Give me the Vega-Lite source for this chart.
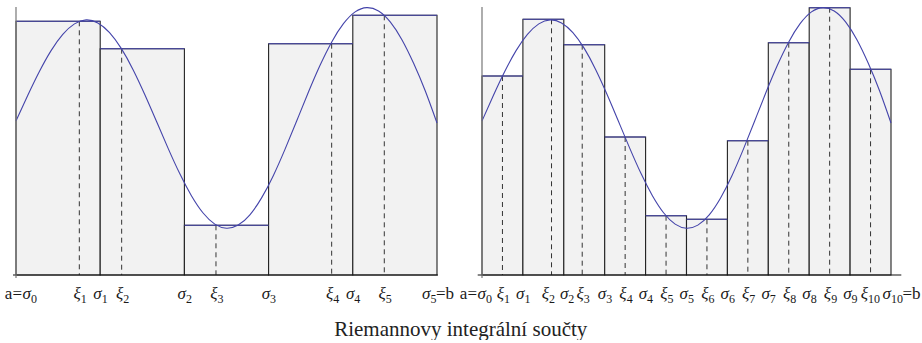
{
  "$schema": "https://vega.github.io/schema/vega-lite/v6.json",
  "padding": {"left": 4, "top": 5, "right": 0, "bottom": 0},
  "autosize": {"type": "pad"},
  "bounds": "flush",
  "spacing": 45,
  "config": {"view": {"stroke": null}, "axis": {"disable": true}, "font": "Liberation Serif", "text": {"font": "Liberation Serif", "color": "#1a1a1a", "baseline": "alphabetic"}},
  "title": {"text": "Riemannovy integrální součty", "orient": "bottom", "anchor": "middle", "fontSize": 21, "fontWeight": "normal", "font": "Liberation Serif", "color": "#222222", "offset": 14, "dx": -2},
  "datasets": {
    "left": [
      {"x0": 0, "x1": 1, "xi": 0.752, "h": 253.7},
      {"x0": 1, "x1": 2, "xi": 1.255, "h": 226.3},
      {"x0": 2, "x1": 3, "xi": 2.375, "h": 49.7},
      {"x0": 3, "x1": 4, "xi": 3.749, "h": 231.3},
      {"x0": 4, "x1": 5, "xi": 4.374, "h": 259.7}
    ],
    "right": [
      {"x0": 0, "x1": 1, "xi": 0.5, "h": 199},
      {"x0": 1, "x1": 2, "xi": 1.7, "h": 255.7},
      {"x0": 2, "x1": 3, "xi": 2.45, "h": 230.3},
      {"x0": 3, "x1": 4, "xi": 3.5, "h": 138},
      {"x0": 4, "x1": 5, "xi": 4.5, "h": 59.3},
      {"x0": 5, "x1": 6, "xi": 5.5, "h": 55.7},
      {"x0": 6, "x1": 7, "xi": 6.5, "h": 134.3},
      {"x0": 7, "x1": 8, "xi": 7.5, "h": 232.3},
      {"x0": 8, "x1": 9, "xi": 8.5, "h": 267.3},
      {"x0": 9, "x1": 10, "xi": 9.5, "h": 205.7}
    ],
    "curve": [
      {"xl": 0, "xr": 0, "y": 154},
      {"xl": 0.1389, "xr": 0.2778, "y": 179.5},
      {"xl": 0.2778, "xr": 0.5556, "y": 203.5},
      {"xl": 0.4167, "xr": 0.8333, "y": 224.4},
      {"xl": 0.5556, "xr": 1.1111, "y": 240.6},
      {"xl": 0.6944, "xr": 1.3889, "y": 251.1},
      {"xl": 0.8333, "xr": 1.6667, "y": 255.1},
      {"xl": 0.9722, "xr": 1.9444, "y": 252.1},
      {"xl": 1.1111, "xr": 2.2222, "y": 242.4},
      {"xl": 1.25, "xr": 2.5, "y": 226.6},
      {"xl": 1.3889, "xr": 2.7778, "y": 205.6},
      {"xl": 1.5278, "xr": 3.0556, "y": 180.8},
      {"xl": 1.6667, "xr": 3.3333, "y": 154},
      {"xl": 1.8056, "xr": 3.6111, "y": 126.9},
      {"xl": 1.9444, "xr": 3.8889, "y": 101.4},
      {"xl": 2.0833, "xr": 4.1667, "y": 79.3},
      {"xl": 2.2222, "xr": 4.4444, "y": 62.0},
      {"xl": 2.3611, "xr": 4.7222, "y": 50.9},
      {"xl": 2.5, "xr": 5, "y": 46.8},
      {"xl": 2.6389, "xr": 5.2778, "y": 49.9},
      {"xl": 2.7778, "xr": 5.5556, "y": 60.2},
      {"xl": 2.9167, "xr": 5.8333, "y": 77.1},
      {"xl": 3.0556, "xr": 6.1111, "y": 99.3},
      {"xl": 3.1944, "xr": 6.3889, "y": 125.6},
      {"xl": 3.3333, "xr": 6.6667, "y": 154},
      {"xl": 3.4722, "xr": 6.9444, "y": 182.7},
      {"xl": 3.6111, "xr": 7.2222, "y": 209.7},
      {"xl": 3.75, "xr": 7.5, "y": 233.1},
      {"xl": 3.8889, "xr": 7.7778, "y": 251.3},
      {"xl": 4.0278, "xr": 8.0556, "y": 263.1},
      {"xl": 4.1667, "xr": 8.3333, "y": 267.4},
      {"xl": 4.3056, "xr": 8.6111, "y": 264.0},
      {"xl": 4.4444, "xr": 8.8889, "y": 253.1},
      {"xl": 4.5833, "xr": 9.1667, "y": 235.3},
      {"xl": 4.7222, "xr": 9.4444, "y": 211.7},
      {"xl": 4.8611, "xr": 9.7222, "y": 184.0},
      {"xl": 5, "xr": 10, "y": 152}
    ],
    "labelsL": [
      {"x": 0, "p": "a=", "m": "σ", "s": "0", "e": "", "kind": "a"},
      {"x": 0.752, "p": "", "m": "ξ", "s": "1", "e": "", "kind": "n"},
      {"x": 1, "p": "", "m": "σ", "s": "1", "e": "", "kind": "n"},
      {"x": 1.255, "p": "", "m": "ξ", "s": "2", "e": "", "kind": "n"},
      {"x": 2, "p": "", "m": "σ", "s": "2", "e": "", "kind": "n"},
      {"x": 2.375, "p": "", "m": "ξ", "s": "3", "e": "", "kind": "n"},
      {"x": 3, "p": "", "m": "σ", "s": "3", "e": "", "kind": "n"},
      {"x": 3.749, "p": "", "m": "ξ", "s": "4", "e": "", "kind": "n"},
      {"x": 4, "p": "", "m": "σ", "s": "4", "e": "", "kind": "n"},
      {"x": 4.374, "p": "", "m": "ξ", "s": "5", "e": "", "kind": "n"},
      {"x": 5, "p": "", "m": "σ", "s": "5", "e": "=b", "kind": "b"}
    ],
    "labelsR": [
      {"x": 0, "p": "a=", "m": "σ", "s": "0", "e": "", "kind": "a"},
      {"x": 0.5, "p": "", "m": "ξ", "s": "1", "e": "", "kind": "n"},
      {"x": 1, "p": "", "m": "σ", "s": "1", "e": "", "kind": "n"},
      {"x": 1.7, "p": "", "m": "ξ", "s": "2", "e": "", "kind": "w"},
      {"x": 2, "p": "", "m": "σ", "s": "2", "e": "", "kind": "r"},
      {"x": 2.45, "p": "", "m": "ξ", "s": "3", "e": "", "kind": "n"},
      {"x": 3, "p": "", "m": "σ", "s": "3", "e": "", "kind": "n"},
      {"x": 3.5, "p": "", "m": "ξ", "s": "4", "e": "", "kind": "n"},
      {"x": 4, "p": "", "m": "σ", "s": "4", "e": "", "kind": "n"},
      {"x": 4.5, "p": "", "m": "ξ", "s": "5", "e": "", "kind": "n"},
      {"x": 5, "p": "", "m": "σ", "s": "5", "e": "", "kind": "n"},
      {"x": 5.5, "p": "", "m": "ξ", "s": "6", "e": "", "kind": "n"},
      {"x": 6, "p": "", "m": "σ", "s": "6", "e": "", "kind": "n"},
      {"x": 6.5, "p": "", "m": "ξ", "s": "7", "e": "", "kind": "n"},
      {"x": 7, "p": "", "m": "σ", "s": "7", "e": "", "kind": "n"},
      {"x": 7.5, "p": "", "m": "ξ", "s": "8", "e": "", "kind": "n"},
      {"x": 8, "p": "", "m": "σ", "s": "8", "e": "", "kind": "n"},
      {"x": 8.5, "p": "", "m": "ξ", "s": "9", "e": "", "kind": "n"},
      {"x": 9, "p": "", "m": "σ", "s": "9", "e": "", "kind": "n"},
      {"x": 9.5, "p": "", "m": "ξ", "s": "10", "e": "", "kind": "w"},
      {"x": 10, "p": "", "m": "σ", "s": "10", "e": "=b", "kind": "b"}
    ],
    "axesL": [{"a": -0.036, "b": 5.012, "y0": -3, "y1": 268}],
    "axesR": [{"a": -0.105, "b": 10.252, "y0": -3, "y1": 268}]
  },
  "hconcat": [
    {
      "width": 421,
      "height": 268,
      "layer": [
        {"data": {"name": "left"}, "mark": {"type": "rect", "fill": "#f2f2f2", "stroke": "#222222", "strokeWidth": 1.1},
         "encoding": {"x": {"field": "x0", "type": "quantitative", "scale": {"domain": [0, 5], "nice": false, "zero": false}}, "x2": {"field": "x1"}, "y": {"field": "h", "type": "quantitative", "scale": {"domain": [0, 268], "nice": false, "zero": false}}, "y2": {"datum": 0}}},
        {"data": {"name": "left"}, "mark": {"type": "rule", "color": "#333333", "strokeWidth": 1, "strokeDash": [5, 4]},
         "encoding": {"x": {"field": "xi", "type": "quantitative"}, "y": {"field": "h", "type": "quantitative"}, "y2": {"datum": 0}}},
        {"data": {"name": "left"}, "mark": {"type": "rule", "color": "#4444aa", "strokeWidth": 1.1},
         "encoding": {"x": {"field": "x0", "type": "quantitative"}, "x2": {"field": "x1"}, "y": {"field": "h", "type": "quantitative"}}},
        {"data": {"name": "curve"}, "mark": {"type": "line", "color": "#4444aa", "strokeWidth": 1.1, "interpolate": "natural"},
         "encoding": {"x": {"field": "xl", "type": "quantitative"}, "y": {"field": "y", "type": "quantitative"}}},
        {"data": {"name": "axesL"}, "mark": {"type": "rule", "color": "#111111", "strokeWidth": 1.2},
         "encoding": {"x": {"field": "a", "type": "quantitative"}, "x2": {"field": "b"}, "y": {"datum": 0, "type": "quantitative"}}},
        {"data": {"name": "axesL"}, "mark": {"type": "rule", "color": "#777777", "strokeWidth": 1.2},
         "encoding": {"x": {"datum": 0, "type": "quantitative"}, "y": {"field": "y0", "type": "quantitative"}, "y2": {"field": "y1"}}},
        {"data": {"name": "labelsL"},
         "encoding": {"x": {"field": "x", "type": "quantitative"}, "y": {"datum": 0, "type": "quantitative"}},
         "layer": [
           {"transform": [{"filter": "datum.kind == 'n'"}], "mark": {"type": "text", "align": "right", "dx": 1.5, "dy": 24, "fontSize": 17, "fontStyle": "italic"}, "encoding": {"text": {"field": "m", "type": "nominal"}}},
           {"transform": [{"filter": "datum.kind == 'n'"}], "mark": {"type": "text", "align": "left", "dx": 1.5, "dy": 28, "fontSize": 12}, "encoding": {"text": {"field": "s", "type": "nominal"}}},
           {"transform": [{"filter": "datum.kind == 'a'"}], "mark": {"type": "text", "align": "right", "dx": 15, "dy": 24, "fontSize": 17, "fontStyle": "italic"}, "encoding": {"text": {"field": "m", "type": "nominal"}}},
           {"transform": [{"filter": "datum.kind == 'a'"}], "mark": {"type": "text", "align": "right", "dx": 6, "dy": 24, "fontSize": 17}, "encoding": {"text": {"field": "p", "type": "nominal"}}},
           {"transform": [{"filter": "datum.kind == 'a'"}], "mark": {"type": "text", "align": "left", "dx": 15, "dy": 28, "fontSize": 12}, "encoding": {"text": {"field": "s", "type": "nominal"}}},
           {"transform": [{"filter": "datum.kind == 'b'"}], "mark": {"type": "text", "align": "right", "dx": -6.5, "dy": 24, "fontSize": 17, "fontStyle": "italic"}, "encoding": {"text": {"field": "m", "type": "nominal"}}},
           {"transform": [{"filter": "datum.kind == 'b'"}], "mark": {"type": "text", "align": "left", "dx": -6.5, "dy": 28, "fontSize": 12}, "encoding": {"text": {"field": "s", "type": "nominal"}}},
           {"transform": [{"filter": "datum.kind == 'b'"}], "mark": {"type": "text", "align": "left", "dx": -1, "dy": 24, "fontSize": 17}, "encoding": {"text": {"field": "e", "type": "nominal"}}}
         ]}
      ]
    },
    {
      "width": 409,
      "height": 268,
      "layer": [
        {"data": {"name": "right"}, "mark": {"type": "rect", "fill": "#f2f2f2", "stroke": "#222222", "strokeWidth": 1.1},
         "encoding": {"x": {"field": "x0", "type": "quantitative", "scale": {"domain": [0, 10], "nice": false, "zero": false}}, "x2": {"field": "x1"}, "y": {"field": "h", "type": "quantitative", "scale": {"domain": [0, 268], "nice": false, "zero": false}}, "y2": {"datum": 0}}},
        {"data": {"name": "right"}, "mark": {"type": "rule", "color": "#333333", "strokeWidth": 1, "strokeDash": [5, 4]},
         "encoding": {"x": {"field": "xi", "type": "quantitative"}, "y": {"field": "h", "type": "quantitative"}, "y2": {"datum": 0}}},
        {"data": {"name": "right"}, "mark": {"type": "rule", "color": "#4444aa", "strokeWidth": 1.1},
         "encoding": {"x": {"field": "x0", "type": "quantitative"}, "x2": {"field": "x1"}, "y": {"field": "h", "type": "quantitative"}}},
        {"data": {"name": "curve"}, "mark": {"type": "line", "color": "#4444aa", "strokeWidth": 1.1, "interpolate": "natural"},
         "encoding": {"x": {"field": "xr", "type": "quantitative"}, "y": {"field": "y", "type": "quantitative"}}},
        {"data": {"name": "axesR"}, "mark": {"type": "rule", "color": "#111111", "strokeWidth": 1.2},
         "encoding": {"x": {"field": "a", "type": "quantitative"}, "x2": {"field": "b"}, "y": {"datum": 0, "type": "quantitative"}}},
        {"data": {"name": "axesR"}, "mark": {"type": "rule", "color": "#777777", "strokeWidth": 1.2},
         "encoding": {"x": {"datum": 0, "type": "quantitative"}, "y": {"field": "y0", "type": "quantitative"}, "y2": {"field": "y1"}}},
        {"data": {"name": "labelsR"},
         "encoding": {"x": {"field": "x", "type": "quantitative"}, "y": {"datum": 0, "type": "quantitative"}},
         "layer": [
           {"transform": [{"filter": "datum.kind == 'n'"}], "mark": {"type": "text", "align": "right", "dx": 1.5, "dy": 24, "fontSize": 17, "fontStyle": "italic"}, "encoding": {"text": {"field": "m", "type": "nominal"}}},
           {"transform": [{"filter": "datum.kind == 'n'"}], "mark": {"type": "text", "align": "left", "dx": 1.5, "dy": 28, "fontSize": 12}, "encoding": {"text": {"field": "s", "type": "nominal"}}},
           {"transform": [{"filter": "datum.kind == 'w'"}], "mark": {"type": "text", "align": "right", "dx": -2.5, "dy": 24, "fontSize": 17, "fontStyle": "italic"}, "encoding": {"text": {"field": "m", "type": "nominal"}}},
           {"transform": [{"filter": "datum.kind == 'w'"}], "mark": {"type": "text", "align": "left", "dx": -2.5, "dy": 28, "fontSize": 12}, "encoding": {"text": {"field": "s", "type": "nominal"}}},
           {"transform": [{"filter": "datum.kind == 'r'"}], "mark": {"type": "text", "align": "right", "dx": 4.5, "dy": 24, "fontSize": 17, "fontStyle": "italic"}, "encoding": {"text": {"field": "m", "type": "nominal"}}},
           {"transform": [{"filter": "datum.kind == 'r'"}], "mark": {"type": "text", "align": "left", "dx": 4.5, "dy": 28, "fontSize": 12}, "encoding": {"text": {"field": "s", "type": "nominal"}}},
           {"transform": [{"filter": "datum.kind == 'a'"}], "mark": {"type": "text", "align": "right", "dx": 4, "dy": 24, "fontSize": 17, "fontStyle": "italic"}, "encoding": {"text": {"field": "m", "type": "nominal"}}},
           {"transform": [{"filter": "datum.kind == 'a'"}], "mark": {"type": "text", "align": "right", "dx": -5, "dy": 24, "fontSize": 17}, "encoding": {"text": {"field": "p", "type": "nominal"}}},
           {"transform": [{"filter": "datum.kind == 'a'"}], "mark": {"type": "text", "align": "left", "dx": 4, "dy": 28, "fontSize": 12}, "encoding": {"text": {"field": "s", "type": "nominal"}}},
           {"transform": [{"filter": "datum.kind == 'b'"}], "mark": {"type": "text", "align": "right", "dx": 0, "dy": 24, "fontSize": 17, "fontStyle": "italic"}, "encoding": {"text": {"field": "m", "type": "nominal"}}},
           {"transform": [{"filter": "datum.kind == 'b'"}], "mark": {"type": "text", "align": "left", "dx": 0, "dy": 28, "fontSize": 12}, "encoding": {"text": {"field": "s", "type": "nominal"}}},
           {"transform": [{"filter": "datum.kind == 'b'"}], "mark": {"type": "text", "align": "left", "dx": 11.5, "dy": 24, "fontSize": 17}, "encoding": {"text": {"field": "e", "type": "nominal"}}}
         ]}
      ]
    }
  ]
}
